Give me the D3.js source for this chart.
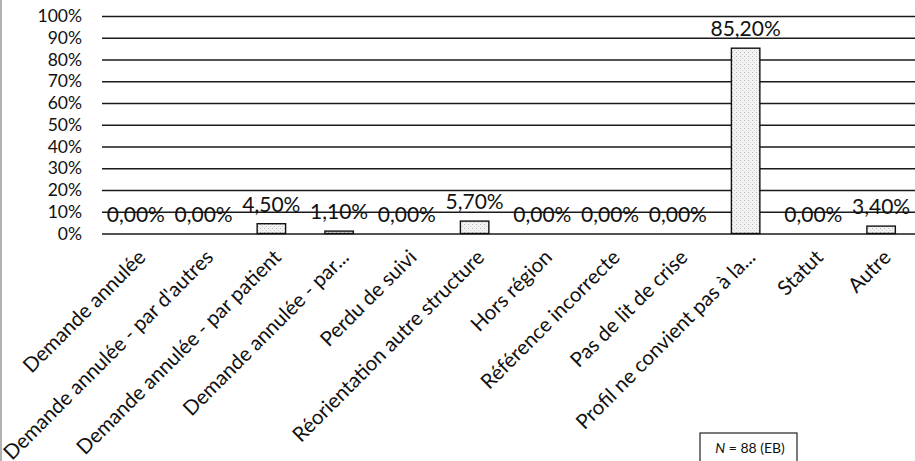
<!DOCTYPE html>
<html><head><meta charset="utf-8">
<script src="https://cdn.jsdelivr.net/npm/d3@7"></script>
<style>
html,body{margin:0;padding:0;background:#fff;}
svg{display:block;}
text{font-family:Lato,"Open Sans",sans-serif;fill:#111;}
</style></head>
<body>
<svg id="chart" width="915" height="461"></svg>
<script>
const categories = [
  "Demande annulée",
  "Demande annulée - par d'autres",
  "Demande annulée - par patient",
  "Demande annulée - par...",
  "Perdu de suivi",
  "Réorientation autre structure",
  "Hors région",
  "Référence incorrecte",
  "Pas de lit de crise",
  "Profil ne convient pas à la...",
  "Statut",
  "Autre"
];
const values = [0, 0, 4.5, 1.1, 0, 5.7, 0, 0, 0, 85.2, 0, 3.4];
const yTicks = [0, 10, 20, 30, 40, 50, 60, 70, 80, 90, 100];
const noteText = ["N", " = 88 (EB)"];

const svg = d3.select("#chart");
const W = 915, H = 461;
const plot = {left: 102, right: 915, top: 16, bottom: 233.5};

const x = d3.scaleBand().domain(categories).range([plot.left, plot.right]).paddingInner(0.58).paddingOuter(0.29);
const y = d3.scaleLinear().domain([0, 100]).range([plot.bottom, plot.top]);
const fmt = v => v.toFixed(2).replace(".", ",") + "%";

// stipple pattern
const defs = svg.append("defs");
const pat = defs.append("pattern").attr("id", "stip").attr("patternUnits", "userSpaceOnUse")
  .attr("width", 4).attr("height", 4);
pat.append("rect").attr("width", 4).attr("height", 4).attr("fill", "#f2f2f2");
pat.append("rect").attr("x", 0).attr("y", 0).attr("width", 1).attr("height", 1).attr("fill", "#b8b8b8");
pat.append("rect").attr("x", 2).attr("y", 2).attr("width", 1).attr("height", 1).attr("fill", "#cfcfcf");

// left page border
svg.append("line").attr("x1", 1).attr("x2", 1).attr("y1", 0).attr("y2", H)
  .attr("stroke", "#999").attr("stroke-width", 1.5);

// y axis (gridlines + labels)
const yAxis = d3.axisLeft(y).tickValues(yTicks).tickFormat(d => d + "%")
  .tickSize(-(plot.right - plot.left)).tickPadding(20);
const gy = svg.append("g").attr("transform", `translate(${plot.left},0)`).call(yAxis);
gy.select(".domain").remove();
gy.selectAll(".tick line").attr("stroke", "#1a1a1a").attr("stroke-width", 1.4);
gy.selectAll(".tick text").attr("font-size", 17.5).attr("fill", "#111")
  .style("font-family", "Lato, sans-serif");

// bars
svg.append("g").selectAll("rect").data(values).join("rect")
  .attr("x", (d, i) => x(categories[i]))
  .attr("y", d => y(d))
  .attr("width", x.bandwidth())
  .attr("height", d => y(0) - y(d))
  .attr("fill", "url(#stip)")
  .attr("stroke", "#111").attr("stroke-width", 1.4);

// value labels
svg.append("g").selectAll("text").data(values).join("text")
  .attr("x", (d, i) => x(categories[i]) + x.bandwidth() / 2)
  .attr("y", d => y(d) - 12)
  .attr("text-anchor", "middle")
  .attr("font-size", 21)
  .text(d => fmt(d));

// x axis labels rotated
const xAxis = d3.axisBottom(x).tickSize(0).tickPadding(0);
const gx = svg.append("g").attr("transform", `translate(0,${plot.bottom})`).call(xAxis);
gx.select(".domain").remove();
gx.selectAll(".tick text")
  .attr("font-size", 20.5)
  .attr("fill", "#111")
  .style("font-family", "Lato, sans-serif")
  .attr("text-anchor", "end")
  .attr("dy", 0)
  .attr("y", 0)
  .attr("transform", "translate(11,25) rotate(-45)");

// note box
const box = svg.append("g");
box.append("rect").attr("x", 700).attr("y", 433).attr("width", 97).attr("height", 40)
  .attr("fill", "#fff").attr("stroke", "#222").attr("stroke-width", 1.2);
const nt = box.append("text").attr("x", 750).attr("y", 453).attr("text-anchor", "middle")
  .attr("font-size", 14);
nt.append("tspan").attr("font-style", "italic").text(noteText[0]);
nt.append("tspan").text(noteText[1]);
</script>
</body></html>
